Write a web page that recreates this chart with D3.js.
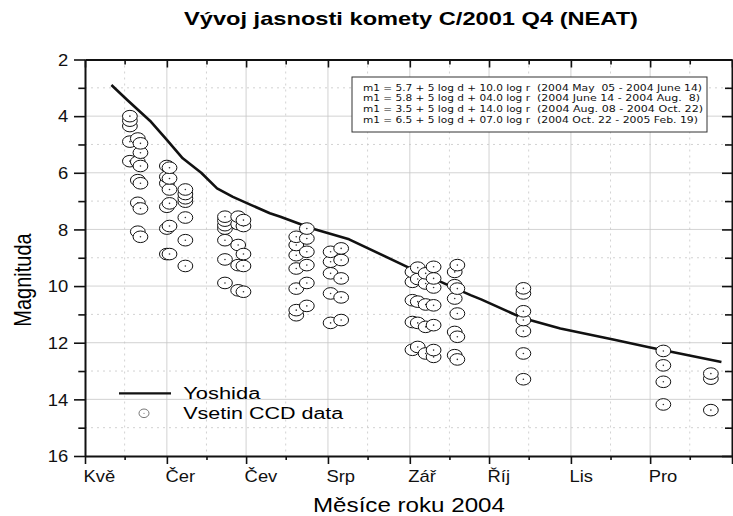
<!DOCTYPE html>
<html lang="cs">
<head>
<meta charset="UTF-8">
<title>Vývoj jasnosti komety C/2001 Q4 (NEAT)</title>
<style>
  body { margin: 0; background: #fff; }
  svg { display: block; font-family: "Liberation Sans", Arial, sans-serif; }
  .grid-major line { stroke: #c6c6c6; stroke-width: 0.8; }
  .grid-minor line { stroke: #c6c6c6; stroke-width: 0.8; stroke-dasharray: 2 4; }
  .axis path { stroke: #111; stroke-width: 2; }
  .axis line { stroke: #111; stroke-width: 1.6; }
  .axis text { font-size: 16px; fill: #111; font-family: "Liberation Sans", Arial, sans-serif; }
  .formula text { font-family: "DejaVu Sans", sans-serif; font-size: 9.5px; white-space: pre; fill: #111; }
</style>
</head>
<body>
<svg width="733" height="516"></svg>
<script src="https://d3js.org/d3.v7.min.js"></script>
<script>
// popisky osy x (měsíce 2004)
const months = ["Kvě", "Čer", "Čev", "Srp", "Zář", "Říj", "Lis", "Pro"];
const magTicks = [2, 4, 6, 8, 10, 12, 14, 16];

// Yoshidova předpověď
const yoshidaDates = ["2004-05-11", "2004-05-17", "2004-05-26", "2004-06-01", "2004-06-07",
  "2004-06-14", "2004-06-20", "2004-06-26", "2004-07-03", "2004-07-10", "2004-07-14",
  "2004-07-26", "2004-08-09", "2004-08-31", "2004-09-24", "2004-09-28", "2004-10-14",
  "2004-10-28", "2004-11-17", "2004-12-01", "2004-12-28"];
const yoshidaMags = [2.9, 3.43, 4.2, 4.84, 5.49, 6.0, 6.55, 6.85, 7.14, 7.43, 7.55,
  7.97, 8.35, 9.32, 10.32, 10.47, 11.14, 11.5, 11.89, 12.17, 12.68];

// CCD měření Vsetín, po nocích
const ccdNights = ["2004-05-18", "2004-05-21", "2004-05-22", "2004-06-01", "2004-06-02",
  "2004-06-08", "2004-06-23", "2004-06-28", "2004-06-30", "2004-07-20", "2004-07-24",
  "2004-08-02", "2004-08-06", "2004-09-02", "2004-09-04", "2004-09-07", "2004-09-10",
  "2004-09-18", "2004-09-19", "2004-10-14", "2004-12-06", "2004-12-24"];
const ccdMags = [
  [5.59, 4.9, 4.35, 4.16, 4.0],
  [8.08, 7.06, 6.26, 5.61, 4.79],
  [8.26, 7.26, 6.37, 5.76, 5.29, 4.96],
  [8.87, 7.97, 7.2, 6.37, 6.14, 5.76],
  [8.87, 7.88, 7.08, 6.59, 6.2, 5.82],
  [9.29, 8.38, 7.58, 7.02, 6.9, 6.75, 6.59],
  [9.89, 9.06, 8.38, 7.97, 7.85, 7.69, 7.55],
  [10.15, 9.26, 8.55, 7.81, 7.55],
  [10.2, 9.29, 8.87, 7.88, 7.67],
  [11.03, 10.85, 10.09, 9.38, 8.91, 8.55, 8.26],
  [10.7, 9.89, 9.26, 8.79, 8.32, 7.97],
  [11.3, 10.26, 9.55, 9.14, 8.79],
  [11.2, 10.4, 9.73, 9.08, 8.67],
  [12.25, 11.27, 10.5, 9.85, 9.5],
  [12.15, 11.3, 10.55, 9.75, 9.35],
  [12.38, 11.44, 10.65, 9.91, 9.55],
  [12.5, 12.26, 11.38, 10.68, 10.05, 9.73, 9.32],
  [12.44, 11.62, 10.44, 9.97, 9.5],
  [12.59, 11.79, 10.97, 10.09, 9.26],
  [13.29, 12.38, 11.59, 11.2, 10.89, 10.26, 10.08],
  [14.18, 13.38, 12.8, 12.29],
  [14.38, 13.27, 13.09]
];

const formulas = [
  "m1 = 5.7 + 5 log d + 10.0 log r",
  "m1 = 5.8 + 5 log d + 04.0 log r",
  "m1 = 3.5 + 5 log d + 14.0 log r",
  "m1 = 6.5 + 5 log d + 07.0 log r"
];
const formulaRanges = [
  "(2004 May  05 - 2004 June 14)",
  "(2004 June 14 - 2004 Aug.  8)",
  "(2004 Aug. 08 - 2004 Oct. 22)",
  "(2004 Oct. 22 - 2005 Feb. 19)"
];

const parse = d3.timeParse("%Y-%m-%d");
const svg = d3.select("svg");

const plotL = 85, plotR = 732, plotT = 59.5, plotB = 456;
const x = d3.scaleTime()
    .domain([new Date(2004, 4, 1), new Date(2005, 0, 1)])
    .range([plotL, plotR]);
const y = d3.scaleLinear().domain([2, 16]).range([plotT, plotB]);

const majorX = d3.timeMonth.range(x.domain()[0], d3.timeDay.offset(x.domain()[1], 1));
const minorX = d3.timeMonth.range(x.domain()[0], x.domain()[1]).map(d => d3.timeDay.offset(d, 15));
const minorY = d3.range(3, 16, 2);

// mřížka
const gMaj = svg.append("g").attr("class", "grid-major");
gMaj.selectAll(".v").data(majorX.slice(1, -1)).join("line")
    .attr("x1", d => x(d)).attr("x2", d => x(d)).attr("y1", plotT).attr("y2", plotB);
gMaj.selectAll(".h").data(magTicks.slice(1, -1)).join("line")
    .attr("x1", plotL).attr("x2", plotR).attr("y1", d => y(d)).attr("y2", d => y(d));
const gMin = svg.append("g").attr("class", "grid-minor");
gMin.selectAll(".v").data(minorX).join("line")
    .attr("x1", d => x(d)).attr("x2", d => x(d)).attr("y1", plotT).attr("y2", plotB);
gMin.selectAll(".h").data(minorY).join("line")
    .attr("x1", plotL).attr("x2", plotR).attr("y1", d => y(d)).attr("y2", d => y(d));

// Yoshida
const yoshida = yoshidaDates.map((d, i) => ({date: parse(d), mag: yoshidaMags[i]}));
svg.append("path")
    .datum(yoshida)
    .attr("fill", "none")
    .attr("stroke", "#111")
    .attr("stroke-width", 2.6)
    .attr("stroke-linejoin", "round")
    .attr("d", d3.line().x(d => x(d.date)).y(d => y(d.mag)));

// body CCD
const points = ccdNights.flatMap((n, i) => ccdMags[i].map(m => ({date: parse(n), mag: m})));
const marks = svg.append("g").selectAll("g").data(points).join("g")
    .attr("transform", d => `translate(${x(d.date)},${y(d.mag)})`);
marks.append("ellipse").attr("rx", 7.4).attr("ry", 5.8)
    .attr("fill", "#fff").attr("stroke", "#111").attr("stroke-width", 1);
marks.append("circle").attr("r", 0.8).attr("fill", "#333");

// osy
const sx = 1.15;
const fmtMonth = d => d.getFullYear() === 2004 ? months[d.getMonth() - 4] : "";
const gx = svg.append("g").attr("class", "axis").attr("transform", `translate(0,${plotB})`)
    .call(d3.axisBottom(x).tickValues(majorX).tickSize(8).tickSizeOuter(0).tickFormat(fmtMonth));
gx.selectAll("text")
    .attr("text-anchor", "start").attr("dy", 0)
    .attr("x", -2 / sx).attr("y", 25.7)
    .attr("transform", `scale(${sx},1)`);
svg.append("g").attr("class", "axis").attr("transform", `translate(0,${plotB})`)
    .call(d3.axisBottom(x).tickValues(minorX).tickSize(4).tickFormat(""))
    .select(".domain").remove();

svg.append("g").attr("class", "axis").attr("transform", `translate(0,${plotT})`)
    .call(d3.axisTop(x).tickValues(majorX).tickSize(-8).tickSizeOuter(0).tickFormat(""));
svg.append("g").attr("class", "axis").attr("transform", `translate(0,${plotT})`)
    .call(d3.axisTop(x).tickValues(minorX).tickSize(-5).tickFormat(""))
    .select(".domain").remove();

const gy = svg.append("g").attr("class", "axis").attr("transform", `translate(${plotL},0)`)
    .call(d3.axisLeft(y).tickValues(magTicks).tickSize(11).tickSizeOuter(0));
gy.selectAll("text")
    .attr("x", -16.7 / sx).attr("dy", "0.36em")
    .attr("transform", `scale(${sx},1)`);
svg.append("g").attr("class", "axis").attr("transform", `translate(${plotL},0)`)
    .call(d3.axisLeft(y).tickValues(minorY).tickSize(6.7).tickFormat(""))
    .select(".domain").remove();

svg.append("g").attr("class", "axis").attr("transform", `translate(${plotR},0)`)
    .call(d3.axisRight(y).tickValues(magTicks).tickSize(-10).tickSizeOuter(0).tickFormat(""));
svg.append("g").attr("class", "axis").attr("transform", `translate(${plotR},0)`)
    .call(d3.axisRight(y).tickValues(minorY).tickSize(-7).tickFormat(""))
    .select(".domain").remove();

// titulky
svg.append("text")
    .attr("x", 411).attr("y", 25)
    .attr("text-anchor", "middle")
    .attr("font-weight", "bold").attr("font-size", 19)
    .attr("textLength", 454).attr("lengthAdjust", "spacingAndGlyphs")
    .text("Vývoj jasnosti komety C/2001 Q4 (NEAT)");

svg.append("text")
    .attr("x", 409).attr("y", 511.7)
    .attr("text-anchor", "middle")
    .attr("font-size", 20)
    .attr("textLength", 192).attr("lengthAdjust", "spacingAndGlyphs")
    .text("Měsíce roku 2004");

svg.append("text")
    .attr("transform", "translate(31,280) rotate(-90) scale(1,1.17)")
    .attr("text-anchor", "middle")
    .attr("font-size", 20)
    .text("Magnituda");

// legenda
const lg = svg.append("g");
lg.append("line").attr("x1", 119).attr("x2", 171).attr("y1", 393.3).attr("y2", 393.3)
    .attr("stroke", "#111").attr("stroke-width", 2.2);
lg.append("text").attr("x", 183.3).attr("y", 398.8).attr("font-size", 16)
    .attr("textLength", 77).attr("lengthAdjust", "spacingAndGlyphs").text("Yoshida");
lg.append("ellipse").attr("cx", 144).attr("cy", 413.3).attr("rx", 5).attr("ry", 4.3)
    .attr("fill", "#fff").attr("stroke", "#777");
lg.append("circle").attr("cx", 144).attr("cy", 413.3).attr("r", 0.6).attr("fill", "#777");
lg.append("text").attr("x", 183.3).attr("y", 418.5).attr("font-size", 16)
    .attr("textLength", 160).attr("lengthAdjust", "spacingAndGlyphs").text("Vsetin CCD data");

// rámeček se vzorci
const fb = svg.append("g").attr("class", "formula");
fb.append("rect").attr("x", 352).attr("y", 77).attr("width", 355).attr("height", 55)
    .attr("fill", "#fff").attr("stroke", "#333").attr("stroke-width", 1);
fb.selectAll(".f").data(formulas).join("text")
    .attr("x", 363).attr("y", (d, i) => 90.5 + i * 10.8)
    .attr("textLength", 167).attr("lengthAdjust", "spacingAndGlyphs")
    .text(d => d);
fb.selectAll(".r").data(formulaRanges).join("text")
    .attr("x", 537).attr("y", (d, i) => 90.5 + i * 10.8)
    .attr("textLength", (d, i) => [165, 163, 166, 161][i]).attr("lengthAdjust", "spacingAndGlyphs")
    .text(d => d);
</script>
</body>
</html>
